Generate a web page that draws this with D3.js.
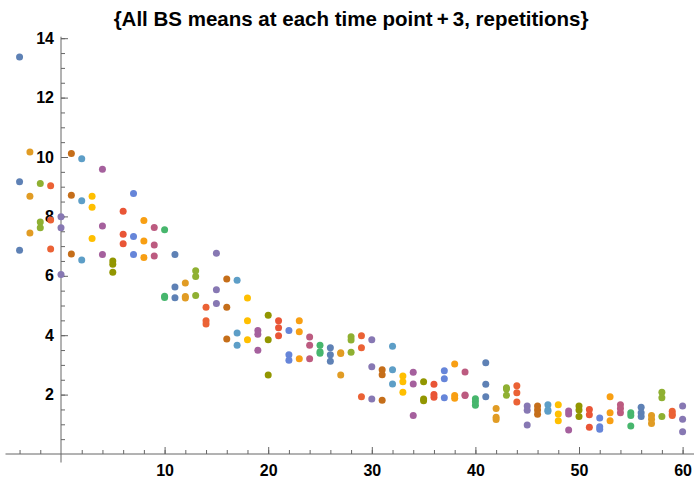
<!DOCTYPE html>
<html>
<head>
<meta charset="utf-8">
<script src="https://cdn.jsdelivr.net/npm/d3@7"></script>
<style>
  body { margin: 0; background: #fff; }
  svg { display: block; font-family: "Liberation Sans", Arial, sans-serif; }
</style>
</head>
<body>
<div id="chart"></div>
<script>
// time points (x) and the three repetitions
let times = [-4, -3, -2, -1, 0, 1, 2, 3, 4, 5, 6, 7, 8, 9, 10, 11, 12, 13, 14, 15, 16, 17, 18, 19, 20,
    21, 22, 23, 24, 25, 26, 27, 28, 29, 30, 31, 32, 33, 34, 35, 36, 37, 38, 39, 40,
    41, 42, 43, 44, 45, 46, 47, 48, 49, 50, 51, 52, 53, 54, 55, 56, 57, 58, 59, 60];
let rep1 = [13.37, 10.17, 9.11, 9.03, 7.99, 10.12, 9.94, 8.68, 9.59, 6.50, 8.17, 8.77, 7.86, 7.63, 7.55,
    6.72, 5.76, 6.17, 4.94, 6.76, 5.89, 5.85, 5.25, 4.16, 4.67, 4.49, 4.16, 4.49, 3.94, 3.66,
    3.58, 3.41, 3.95, 3.98, 3.85, 2.84, 3.63, 2.63, 2.75, 2.43, 2.35, 2.80, 3.03, 2.76, 1.86,
    3.07, 1.53, 2.23, 2.30, 1.62, 1.62, 1.66, 1.66, 1.45, 1.62, 1.50, 1.21, 1.93, 1.66, 1.39,
    1.57, 1.30, 2.08, 1.44, 1.62];
let rep2 = [9.17, 8.68, 7.81, 7.88, 7.62, 8.71, 8.53, 8.31, 7.68, 6.39, 7.40, 7.32, 7.17, 7.04, 5.31,
    5.62, 5.30, 5.98, 4.49, 5.53, 4.94, 4.07, 4.49, 4.03, 3.85, 4.25, 3.34, 4.12, 3.66, 3.44,
    3.34, 3.38, 3.84, 3.58, 2.94, 2.67, 2.84, 2.43, 2.36, 1.85, 2.00, 2.53, 1.97, 1.99, 1.76,
    2.35, 1.24, 2.19, 2.06, 1.47, 1.48, 1.48, 1.35, 1.35, 1.48, 1.32, 0.92, 1.39, 1.53, 1.30,
    1.39, 1.17, 1.89, 1.35, 1.17];
let rep3 = [6.86, 7.44, 7.62, 6.90, 6.04, 6.73, 6.53, 7.26, 6.72, 6.12, 7.08, 6.72, 6.62, 6.67, 5.27,
    5.26, 5.25, 5.34, 4.38, 5.07, 3.87, 3.66, 3.85, 3.49, 2.66, 3.98, 3.16, 3.21, 3.21, 3.39,
    3.12, 2.66, 3.43, 1.93, 1.85, 1.81, 2.36, 2.08, 1.30, 1.79, 1.91, 1.89, 1.88, 1.97, 1.64,
    1.93, 1.16, 1.98, 1.75, 0.98, 1.34, 1.44, 1.12, 0.81, 1.26, 0.90, 0.83, 1.12, 1.39, 0.94,
    1.26, 1.03, 1.26, 1.30, 0.75];

let xTickLabels = [10, 20, 30, 40, 50, 60];
let yTickLabels = [2, 4, 6, 8, 10, 12, 14];
let palette = ['#5E81B5', '#E19C24', '#8FB032', '#EB6235', '#8778B3', '#C56E1A', '#5D9EC7', '#FFBF00',
    '#A5609D', '#929600', '#E95536', '#6685D9', '#F89F13', '#BC5B80', '#47B66D'];
let title = '{All BS means at each time point\u2009+\u20093, repetitions}';

let width = 694, height = 481;
let axisColor = '#666';

let $svg = d3.select('#chart').append('svg')
    .attr('width', width)
    .attr('height', height);

let x = d3.scaleLinear().domain([0, 60]).range([61, 682.6]);
let y = d3.scaleLinear().domain([0, 14]).range([454, 38.2]);

// one colour per time point, cycling like the default plot style
let points = [];
times.forEach((t, i) => {
    [rep1[i], rep2[i], rep3[i]].forEach(v => points.push({t, v, c: palette[i % palette.length]}));
});

// axes lines
$svg.append('line')
    .attr('x1', 5.5).attr('x2', width)
    .attr('y1', y(0)).attr('y2', y(0))
    .attr('stroke', axisColor);
$svg.append('line')
    .attr('x1', x(0)).attr('x2', x(0))
    .attr('y1', y(14.05)).attr('y2', 462.5)
    .attr('stroke', axisColor);

let styleAxis = (g) => {
    g.select('.domain').remove();
    g.selectAll('.tick line').attr('stroke', axisColor);
    g.selectAll('.tick text')
        .attr('fill', '#000')
        .style('font-size', '16px')
        .style('font-weight', 'bold');
};

// y axis: minor every 0.5, major every 2, ticks pointing inward
$svg.append('g')
    .attr('transform', `translate(${x(0)},0)`)
    .call(d3.axisLeft(y).tickValues(d3.range(0.5, 14.01, 0.5)).tickSize(-4).tickFormat(''))
    .call(styleAxis);
$svg.append('g')
    .attr('transform', `translate(${x(0)},0)`)
    .call(d3.axisLeft(y).tickValues(yTickLabels).tickSize(-7).tickPadding(7))
    .call(styleAxis);

// x axis: minor every 2, major every 10
$svg.append('g')
    .attr('transform', `translate(0,${y(0)})`)
    .call(d3.axisBottom(x).tickValues(d3.range(-4, 61, 2).filter(d => d !== 0)).tickSize(-4).tickFormat(''))
    .call(styleAxis);
$svg.append('g')
    .attr('transform', `translate(0,${y(0)})`)
    .call(d3.axisBottom(x).tickValues(xTickLabels).tickSize(-7).tickPadding(11))
    .call(styleAxis);

// points
$svg.append('g')
    .selectAll('circle')
    .data(points)
    .join('circle')
    .attr('cx', d => x(d.t))
    .attr('cy', d => y(d.v))
    .attr('r', 3.5)
    .attr('fill', d => d.c);

// title
$svg.append('text')
    .attr('x', 351)
    .attr('y', 25.5)
    .attr('text-anchor', 'middle')
    .style('font-size', '20.5px')
    .style('font-weight', 'bold')
    .text(title);
</script>
</body>
</html>
